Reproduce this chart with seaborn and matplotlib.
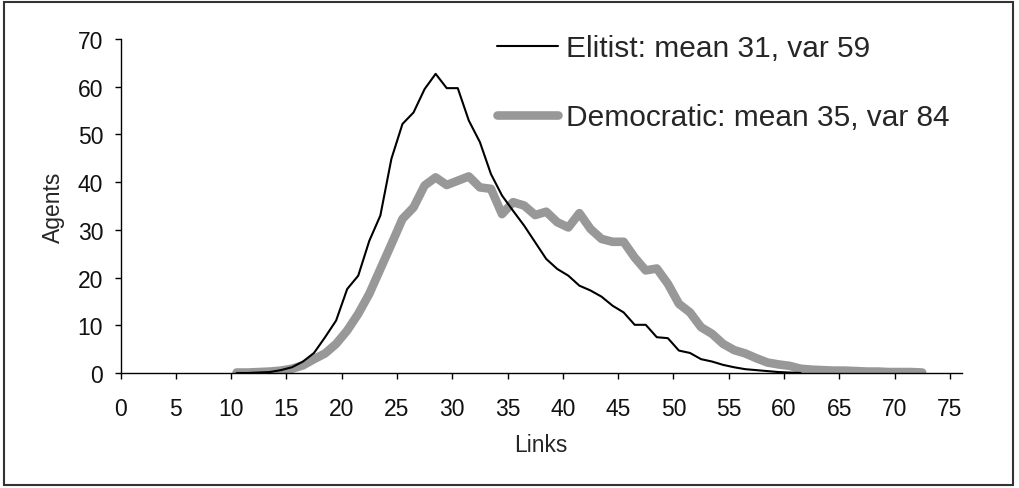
import numpy as np
import pandas as pd
import matplotlib
matplotlib.use("Agg")
import matplotlib.pyplot as plt
from matplotlib.patches import Rectangle
import seaborn as sns

# ---- data ----
elitist_links = list(range(10, 62))
elitist_agents = [0.0, 0.0, 0.1, 0.2, 0.6, 1.2, 2.4, 4.2, 7.5, 11.0,
                  17.6, 20.4, 27.7, 33.0, 44.9, 52.2, 54.6, 59.5, 62.7, 59.7,
                  59.7, 52.9, 48.4, 41.7, 37.2, 34.0, 30.9, 27.4, 23.9, 21.8,
                  20.4, 18.3, 17.3, 16.0, 14.1, 12.7, 10.1, 10.1, 7.5, 7.3,
                  4.7, 4.2, 2.9, 2.4, 1.7, 1.2, 0.8, 0.6, 0.4, 0.2,
                  0.1, 0.0]
democratic_links = list(range(10, 73))
democratic_agents = [0.1, 0.1, 0.2, 0.3, 0.5, 0.9, 1.6, 2.9, 4.1, 6.1,
                     8.9, 12.4, 16.6, 21.8, 27.0, 32.3, 34.7, 39.3, 41.0, 39.4,
                     40.3, 41.2, 38.9, 38.6, 33.3, 35.8, 35.1, 33.1, 33.8, 31.6,
                     30.5, 33.5, 30.2, 28.1, 27.5, 27.5, 24.2, 21.5, 21.9, 18.7,
                     14.5, 12.7, 9.6, 8.2, 6.1, 4.8, 4.1, 3.1, 2.2, 1.8,
                     1.5, 0.9, 0.7, 0.6, 0.5, 0.5, 0.4, 0.3, 0.3, 0.2,
                     0.2, 0.2, 0.1]
labels = ["Elitist: mean 31, var 59", "Democratic: mean 35, var 84"]
x_ticks = list(range(0, 80, 5))
y_ticks = list(range(0, 80, 10))
x_label = "Links"
y_label = "Agents"

# points sit in the middle of each category slot
CENTER = 0.5

sns.set_theme(style="white")
plt.rcParams["font.family"] = ["Liberation Sans", "DejaVu Sans"]

W, H = 1019, 489
fig = plt.figure(figsize=(W / 100, H / 100), dpi=100)
ax = fig.add_axes([120.5 / W, (H - 374) / H, (962 - 120.5) / W, (374 - 40) / H])

df_e = pd.DataFrame({"x": np.array(elitist_links) + CENTER, "y": elitist_agents})
df_d = pd.DataFrame({"x": np.array(democratic_links) + CENTER, "y": democratic_agents})

sns.lineplot(data=df_d, x="x", y="y", ax=ax, color="#989898", linewidth=6.2,
             label=labels[1], zorder=2, solid_capstyle="round", solid_joinstyle="round")
sns.lineplot(data=df_e, x="x", y="y", ax=ax, color="black", linewidth=1.5,
             label=labels[0], zorder=3)

ax.set_xlim(0, 76.1)
ax.set_ylim(0, 70)
ax.set_xticks(x_ticks)
ax.set_yticks(y_ticks)
ax.set_xlabel(x_label, fontsize=16.5, labelpad=10)
ax.set_ylabel(y_label, fontsize=16.5, labelpad=9)

for side in ["top", "right"]:
    ax.spines[side].set_visible(False)
for side in ["left", "bottom"]:
    ax.spines[side].set_color("black")
    ax.spines[side].set_linewidth(1.0)

ax.tick_params(axis="both", which="major", direction="out", length=4.5, width=1.0,
               color="black", labelsize=16.5, labelcolor="#111111")
ax.tick_params(axis="x", pad=12.5, bottom=True)
ax.tick_params(axis="y", pad=8, left=True)
ax.grid(False)

handles, lbls = ax.get_legend_handles_labels()
order = [lbls.index(labels[0]), lbls.index(labels[1])]
leg = ax.legend([handles[i] for i in order], [lbls[i] for i in order],
                loc="upper left", bbox_to_anchor=(497 / W, 1 - 35 / H),
                bbox_transform=fig.transFigure, frameon=False, fontsize=21.5,
                handlelength=2.05, handletextpad=0.25, labelspacing=1.38,
                borderpad=0, borderaxespad=0)

# figure frame
fig.patches.append(Rectangle((4 / W, 3 / H), (1013 - 4) / W, (486 - 3) / H,
                             transform=fig.transFigure, fill=False,
                             edgecolor="#333333", linewidth=1.5))

fig.savefig("out.png", dpi=100)
